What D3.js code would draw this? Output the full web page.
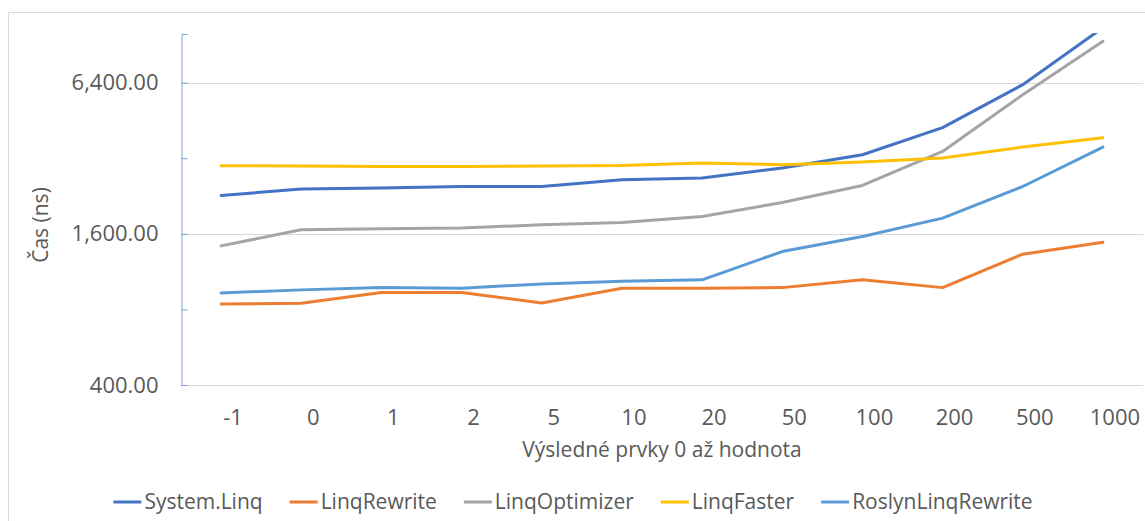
<!DOCTYPE html>
<html>
<head>
<meta charset="utf-8">
<script src="https://cdn.jsdelivr.net/npm/d3@7"></script>
<style>
  html, body { margin: 0; padding: 0; background: #ffffff; }
  svg { display: block; }
  text { font-family: "Open Sans", "Noto Sans", sans-serif; fill: #595959; }
</style>
</head>
<body>
<svg id="chart" width="1145" height="521"></svg>
<script>
// ---- data ----
const categories = ["-1", "0", "1", "2", "5", "10", "20", "50", "100", "200", "500", "1000"];
const seriesNames = ["System.Linq", "LinqRewrite", "LinqOptimizer", "LinqFaster", "RoslynLinqRewrite"];
const systemLinq        = [2274, 2412, 2434, 2470, 2470, 2627, 2668, 2925, 3304, 4235, 6284, 10600];
const linqRewrite       = [841, 847, 934, 934, 849, 972, 972, 977, 1049, 977, 1328, 1482];
const linqOptimizer     = [1433, 1660, 1675, 1686, 1738, 1775, 1876, 2133, 2493, 3406, 5732, 9352];
const linqFaster        = [2987, 2980, 2968, 2968, 2980, 2993, 3062, 3015, 3090, 3207, 3546, 3863];
const roslynLinqRewrite = [931, 957, 977, 972, 1011, 1036, 1049, 1360, 1561, 1848, 2470, 3546];
const yLabelTicks = [400, 1600, 6400];
const yMinorTicks = [800, 3200];
const yDomain = [400, 10000];
const xTitle = "Výsledné prvky 0 až hodnota";
const yTitle = "Čas (ns)";

const seriesValues = [systemLinq, linqRewrite, linqOptimizer, linqFaster, roslynLinqRewrite];
const seriesColors = ["#4472C4", "#ED7D31", "#A5A5A5", "#FFC000", "#5B9BD5"];

// ---- layout ----
const plot = { left: 181, right: 1143, top: 34, bottom: 385 };
const tickFont = 22;
const titleFont = 21;

const svg = d3.select("#chart");

// chart border
svg.append("rect")
  .attr("x", 8.5).attr("y", 12.5)
  .attr("width", 1160).attr("height", 540)
  .attr("fill", "none").attr("stroke", "#d9d9d9").attr("stroke-width", 1);

const x = d3.scaleBand().domain(categories).range([plot.left, plot.right]).padding(0);
const y = d3.scaleLog().base(2).domain(yDomain).range([plot.bottom, plot.top]);

// gridlines
svg.append("g").selectAll("line")
  .data(yLabelTicks)
  .join("line")
  .attr("x1", plot.left).attr("x2", plot.right)
  .attr("y1", d => Math.round(y(d)) + 0.5).attr("y2", d => Math.round(y(d)) + 0.5)
  .attr("stroke", "#d9d9d9").attr("stroke-width", 1);

// x axis
const xAxis = svg.append("g")
  .attr("transform", `translate(0,${plot.bottom})`)
  .call(d3.axisBottom(x).tickSize(0).tickPadding(40));
xAxis.select(".domain").remove();
xAxis.selectAll("text")
  .attr("dx", 12)
  .attr("dy", "0")
  .style("font-size", tickFont + "px")
  .style("font-family", "'Open Sans', sans-serif")
  .attr("fill", "#595959");

// y axis
const yTickAll = yLabelTicks.concat(yMinorTicks).sort((a, b) => a - b);
const fmt = d3.format(",.2f");
const yAxis = svg.append("g")
  .attr("transform", `translate(${plot.left + 0.5},0)`)
  .call(d3.axisLeft(y)
    .tickValues(yTickAll)
    .tickSizeInner(-6)
    .tickSizeOuter(-6)
    .tickPadding(23)
    .tickFormat(d => yLabelTicks.includes(d) ? fmt(d) : ""));
yAxis.select(".domain").attr("stroke", "#7F9ED8").attr("stroke-width", 1);
yAxis.selectAll(".tick line").attr("stroke", "#7F9ED8");
yAxis.selectAll("text")
  .style("font-size", tickFont + "px")
  .style("font-family", "'Open Sans', sans-serif")
  .attr("fill", "#595959");

// clip
svg.append("clipPath").attr("id", "plotclip")
  .append("rect")
  .attr("x", plot.left).attr("y", plot.top - 1)
  .attr("width", plot.right - plot.left).attr("height", plot.bottom - plot.top + 2);

// lines
const line = d3.line()
  .x((d, i) => x(categories[i]) + x.bandwidth() / 2)
  .y(d => y(d));

svg.append("g").attr("clip-path", "url(#plotclip)")
  .selectAll("path")
  .data(seriesValues)
  .join("path")
  .attr("d", d => line(d))
  .attr("fill", "none")
  .attr("stroke", (d, i) => seriesColors[i])
  .attr("stroke-width", 3)
  .attr("stroke-linejoin", "round")
  .attr("stroke-linecap", "round");

// axis titles
svg.append("text")
  .attr("x", (plot.left + plot.right) / 2)
  .attr("y", 457)
  .attr("text-anchor", "middle")
  .style("font-size", titleFont + "px")
  .text(xTitle);

svg.append("text")
  .attr("transform", `translate(48,225) rotate(-90)`)
  .attr("text-anchor", "middle")
  .style("font-size", titleFont + "px")
  .text(yTitle);

// legend
const legend = svg.append("g");
const items = legend.selectAll("g")
  .data(seriesNames)
  .join("g");
items.append("line")
  .attr("x1", 0).attr("x2", 28)
  .attr("y1", 0).attr("y2", 0)
  .attr("stroke", (d, i) => seriesColors[i])
  .attr("stroke-width", 3);
items.append("text")
  .attr("x", 31)
  .attr("y", 0)
  .attr("dy", "0.35em")
  .style("font-size", titleFont + "px")
  .text(d => d);
const gap = 27;
let offs = 0;
const offsets = [];
items.each(function () {
  const w = d3.select(this).select("text").node().getComputedTextLength();
  offsets.push(offs);
  offs += 31 + w + gap;
});
const totalW = offs - gap;
const startX = 573 - totalW / 2;
items.attr("transform", (d, i) => `translate(${startX + offsets[i]},502)`);
</script>
</body>
</html>
